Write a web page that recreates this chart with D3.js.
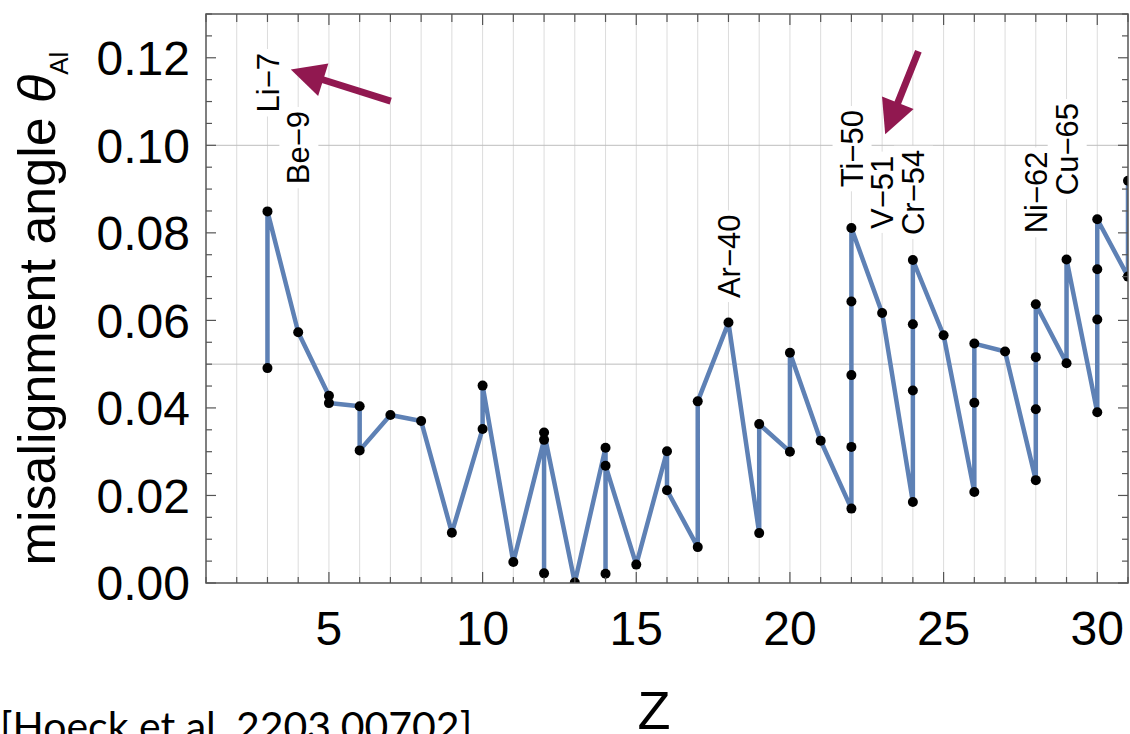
<!DOCTYPE html>
<html>
<head>
<meta charset="utf-8">
<script src="https://cdn.jsdelivr.net/npm/d3@7"></script>
<style>
  body { margin: 0; background: #fff; }
  svg { display: block; font-family: "Liberation Sans", Arial, Helvetica, sans-serif; }
</style>
</head>
<body>
<div id="chart"></div>
<script>
// Isotopes in the order the line joins them: proton number Z and misalignment angle
const pathZ = [3, 3, 4, 5, 5, 6, 6, 7, 8, 9, 10, 10, 11, 12, 12, 12, 13, 14, 14, 14, 15,
    16, 16, 17, 17, 18, 19, 19, 20, 20, 21, 22, 22, 22, 22, 22, 23, 24, 24, 24, 24, 25,
    26, 26, 26, 27, 28, 28, 28, 28, 29, 29, 30, 30, 30, 30, 31, 31];
const pathTheta = [0.0491, 0.0849, 0.0573, 0.0428, 0.0411, 0.0404, 0.0303, 0.0384, 0.0370, 0.0115,
    0.0352, 0.0451, 0.0048, 0.0327, 0.0022, 0.0344, 0.0001, 0.0309, 0.0021, 0.0268, 0.0042,
    0.0301, 0.0212, 0.0082, 0.0415, 0.0595, 0.0114, 0.0363, 0.0300, 0.0526, 0.0325,
    0.0170, 0.0311, 0.0475, 0.0643, 0.0811, 0.0617, 0.0185, 0.0440, 0.0591, 0.0738, 0.0566,
    0.0208, 0.0412, 0.0547, 0.0529, 0.0235, 0.0397, 0.0516, 0.0637, 0.0502, 0.0739,
    0.0390, 0.0602, 0.0717, 0.0831, 0.0700, 0.0919];

// isotope callouts (the theta value is where the rotated text starts)
const labelNames = ["Li\u22127", "Be\u22129", "Ar\u221240", "Ti\u221250", "V\u221251", "Cr\u221254", "Ni\u221262", "Cu\u221265"];
const labelZ = [3, 4, 18, 22, 23, 24, 28, 29];
const labelTheta = [0.1075, 0.0911, 0.0651, 0.0904, 0.0809, 0.0795, 0.0799, 0.0886];

// the two highlight arrows, tail -> tip, in data units
const arrowFrom = [[7.01, 0.1101], [24.18, 0.1215]];
const arrowTo = [[3.76, 0.1173], [23.10, 0.1025]];

const xTickValues = [5, 10, 15, 20, 25, 30];
const yTickValues = [0, 0.02, 0.04, 0.06, 0.08, 0.10, 0.12];
const yGridValues = [0.05, 0.10];

const width = 1130;
const height = 734;
const marginLeft = 206;
const marginRight = 2;
const marginTop = 14;
const marginBottom = 151;

const x = d3.scaleLinear().domain([1, 31]).range([marginLeft, width - marginRight]);
const y = d3.scaleLinear().domain([0, 0.13]).range([height - marginBottom, marginTop]);

const svg = d3.select("#chart").append("svg")
    .attr("width", width)
    .attr("height", height);

svg.append("clipPath").attr("id", "plot-clip")
    .append("rect")
    .attr("x", x(1)).attr("y", y(0.13))
    .attr("width", x(31) - x(1)).attr("height", y(0) - y(0.13));

// grid
const gGrid = svg.append("g");
gGrid.selectAll("line.v")
    .data(d3.range(2, 31))
    .join("line")
    .attr("x1", d => x(d)).attr("x2", d => x(d))
    .attr("y1", y(0)).attr("y2", y(0.13))
    .attr("stroke", "#dcdcdc")
    .attr("stroke-width", 1);
gGrid.selectAll("line.h")
    .data(yGridValues)
    .join("line")
    .attr("x1", x(1)).attr("x2", x(31))
    .attr("y1", d => y(d)).attr("y2", d => y(d))
    .attr("stroke", "#bdbdbd")
    .attr("stroke-width", 1);

// isotope labels with a white box behind them
const gLabels = svg.append("g");
labelNames.forEach((name, i) => {
    const g = gLabels.append("g")
        .attr("transform", `translate(${x(labelZ[i])},${y(labelTheta[i])}) rotate(-90)`);
    const t = g.append("text")
        .attr("x", 0).attr("y", 0)
        .attr("dy", "0.36em")
        .attr("font-size", 31)
        .attr("fill", "#000")
        .text(name);
    const b = t.node().getBBox();
    g.insert("rect", "text")
        .attr("x", b.x - 4).attr("y", b.y - 2)
        .attr("width", b.width + 8).attr("height", b.height + 4)
        .attr("fill", "#fff");
});

// arrows
const gArrow = svg.append("g").attr("fill", "#911850").attr("stroke", "#911850");
arrowFrom.forEach((from, i) => {
    const x0 = x(from[0]), y0 = y(from[1]);
    const x1 = x(arrowTo[i][0]), y1 = y(arrowTo[i][1]);
    const len = Math.hypot(x1 - x0, y1 - y0);
    const ux = (x1 - x0) / len, uy = (y1 - y0) / len;
    const headLen = 34, headHalf = 17;
    const bx = x1 - ux * headLen, by = y1 - uy * headLen;
    gArrow.append("line")
        .attr("x1", x0).attr("y1", y0)
        .attr("x2", bx + ux * 2).attr("y2", by + uy * 2)
        .attr("stroke-width", 7);
    gArrow.append("path")
        .attr("stroke", "none")
        .attr("d", `M${x1},${y1}L${bx - uy * headHalf},${by + ux * headHalf}L${bx + uy * headHalf},${by - ux * headHalf}Z`);
});

// data line and points
const points = pathZ.map((z, i) => [z, pathTheta[i]]);
const gData = svg.append("g").attr("clip-path", "url(#plot-clip)");
gData.append("path")
    .datum(points)
    .attr("fill", "none")
    .attr("stroke", "#5e81b5")
    .attr("stroke-width", 4.5)
    .attr("stroke-linejoin", "round")
    .attr("d", d3.line().x(d => x(d[0])).y(d => y(d[1])));
gData.selectAll("circle")
    .data(points)
    .join("circle")
    .attr("cx", d => x(d[0]))
    .attr("cy", d => y(d[1]))
    .attr("r", 5)
    .attr("fill", "#000");

// frame ticks (all pointing inward)
const frameColor = "#555";
const gTicks = svg.append("g").attr("stroke", frameColor).attr("stroke-width", 1.2);
const xMinor = d3.range(1, 32);
const yMinor = d3.range(0, 27).map(i => i * 0.005);
gTicks.selectAll("line.xb")
    .data(xMinor)
    .join("line")
    .attr("x1", d => x(d)).attr("x2", d => x(d))
    .attr("y1", y(0)).attr("y2", d => y(0) - (d % 5 === 0 ? 11 : 6));
gTicks.selectAll("line.xt")
    .data(xMinor)
    .join("line")
    .attr("x1", d => x(d)).attr("x2", d => x(d))
    .attr("y1", y(0.13)).attr("y2", d => y(0.13) + (d % 5 === 0 ? 11 : 8));
gTicks.selectAll("line.yl")
    .data(yMinor)
    .join("line")
    .attr("y1", d => y(d)).attr("y2", d => y(d))
    .attr("x1", x(1)).attr("x2", (d, i) => x(1) + (i % 4 === 0 ? 10 : 6));
gTicks.selectAll("line.yr")
    .data(yMinor)
    .join("line")
    .attr("y1", d => y(d)).attr("y2", d => y(d))
    .attr("x1", x(31)).attr("x2", (d, i) => x(31) - (i % 4 === 0 ? 10 : 6));

svg.append("rect")
    .attr("x", x(1)).attr("y", y(0.13))
    .attr("width", x(31) - x(1)).attr("height", y(0) - y(0.13))
    .attr("fill", "none")
    .attr("stroke", frameColor)
    .attr("stroke-width", 1.5);

// tick labels
svg.append("g").selectAll("text")
    .data(yTickValues)
    .join("text")
    .attr("x", x(1) - 16)
    .attr("y", d => y(d))
    .attr("dy", "0.36em")
    .attr("text-anchor", "end")
    .attr("font-size", 48)
    .text(d3.format(".2f"));

svg.append("g").selectAll("text")
    .data(xTickValues)
    .join("text")
    .attr("x", d => x(d))
    .attr("y", 645)
    .attr("text-anchor", "middle")
    .attr("font-size", 48)
    .text(d => d);

// axis titles
const yTitle = svg.append("text")
    .attr("transform", `translate(55,${(y(0) + y(0.13)) / 2 + 10}) rotate(-90)`)
    .attr("text-anchor", "middle")
    .attr("font-size", 52);
yTitle.append("tspan").text("misalignment angle ");
yTitle.append("tspan").attr("font-style", "italic").text("\u03b8");
yTitle.append("tspan").attr("font-size", 26).attr("dy", 13).text("Al");

svg.append("text")
    .attr("x", 654)
    .attr("y", 729)
    .attr("text-anchor", "middle")
    .attr("font-size", 54)
    .text("Z");

svg.append("text")
    .attr("x", 0)
    .attr("y", 741)
    .attr("font-family", "Lato, sans-serif")
    .attr("font-size", 41)
    .text("[Hoeck et al. 2203.00702]");
</script>
</body>
</html>
